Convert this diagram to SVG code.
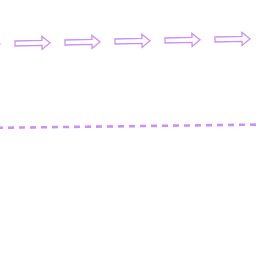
<svg xmlns="http://www.w3.org/2000/svg" width="256" height="256" viewBox="0 0 256 256">
<defs>
<style>
.arr{fill:#ffffff;stroke:#cc90f6;stroke-width:1.3;stroke-linejoin:miter}
.dash{stroke:#cc90f6;stroke-width:2.6;stroke-dasharray:6 5;stroke-dashoffset:3;fill:none}
</style>
<path id="a" class="arr" d="M0,-2.5 H27 V-6.5 L35,0 L27,6.5 V2.5 H0 Z"/>
</defs>
<rect width="256" height="256" fill="#ffffff"/>
<g id="arrows">
<use href="#a" transform="translate(-35,44.5) rotate(-1.15)"/>
<use href="#a" transform="translate(15,43.5) rotate(-1.15)"/>
<use href="#a" transform="translate(65,42.5) rotate(-1.15)"/>
<use href="#a" transform="translate(115,41.5) rotate(-1.15)"/>
<use href="#a" transform="translate(165,40.5) rotate(-1.15)"/>
<use href="#a" transform="translate(215,39.5) rotate(-1.15)"/>
</g>
<g id="connectors">
<line class="dash" x1="0" y1="127.8" x2="256" y2="124.6"/>
</g>
</svg>
